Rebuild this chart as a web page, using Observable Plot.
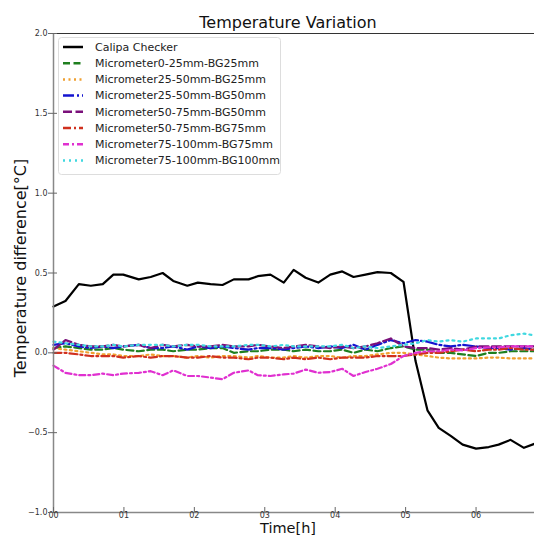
<!DOCTYPE html>
<html><head><meta charset="utf-8">
<script src="https://cdn.jsdelivr.net/npm/d3@7"></script>
<script src="https://cdn.jsdelivr.net/npm/@observablehq/plot@0.6"></script>
<style>body{margin:0;background:#fff}#chart{width:534px;height:536px}</style>
</head><body><div id="chart"></div>
<script>
// time in hours
const times = [0,0.17,0.36,0.53,0.70,0.85,0.99,1.21,1.38,1.55,1.70,1.90,2.05,2.23,2.40,2.56,2.77,2.90,3.08,3.27,3.41,3.58,3.76,3.93,4.10,4.26,4.43,4.60,4.79,4.97,5.14,5.31,5.47,5.64,5.81,6.00,6.18,6.32,6.49,6.68,6.83];

const calipa = [0.29,0.325,0.43,0.42,0.43,0.49,0.49,0.46,0.475,0.50,0.45,0.42,0.44,0.43,0.425,0.46,0.46,0.48,0.49,0.44,0.52,0.47,0.44,0.49,0.51,0.475,0.49,0.505,0.50,0.445,-0.05,-0.36,-0.47,-0.52,-0.575,-0.60,-0.59,-0.575,-0.545,-0.595,-0.57];
const mic0_25_bg25 = [0.03,0.04,0.03,0.02,0.02,0.03,0.02,0.01,0.02,0.02,0.01,0.02,0.02,0.03,0.03,0.0,0.01,0.01,0.02,0.02,0.01,0.02,0.01,0.01,0.02,0.0,0.02,0.01,0.03,0.04,0.02,0.02,0.0,0.0,-0.01,-0.02,0.0,0.0,0.01,0.01,0.01];
const mic25_50_bg25 = [0.03,0.02,0.01,0.0,-0.01,-0.01,-0.02,-0.02,-0.01,-0.02,-0.02,-0.03,-0.02,-0.03,-0.02,-0.02,-0.03,-0.02,-0.03,-0.03,-0.02,-0.03,-0.02,-0.02,-0.03,-0.02,-0.02,-0.01,0.0,0.0,-0.01,-0.02,-0.03,-0.035,-0.035,-0.035,-0.03,-0.03,-0.035,-0.035,-0.035];
const mic25_50_bg50 = [0.05,0.06,0.04,0.03,0.04,0.03,0.04,0.05,0.03,0.03,0.04,0.02,0.04,0.03,0.04,0.03,0.02,0.03,0.03,0.02,0.03,0.04,0.03,0.04,0.03,0.05,0.02,0.05,0.08,0.06,0.08,0.07,0.05,0.04,0.05,0.04,0.03,0.03,0.02,0.03,0.02];
const mic50_75_bg50 = [0.02,0.08,0.05,0.04,0.04,0.05,0.04,0.05,0.03,0.05,0.04,0.05,0.04,0.04,0.05,0.04,0.04,0.05,0.04,0.03,0.04,0.05,0.04,0.03,0.04,0.03,0.04,0.06,0.09,0.04,0.03,0.03,0.02,0.03,0.02,0.04,0.04,0.04,0.04,0.04,0.04];
const mic50_75_bg75 = [0.0,0.0,-0.01,-0.02,-0.02,-0.02,-0.03,-0.02,-0.03,-0.02,-0.02,-0.03,-0.03,-0.02,-0.03,-0.03,-0.04,-0.03,-0.03,-0.04,-0.03,-0.04,-0.03,-0.04,-0.03,-0.03,-0.03,-0.02,-0.02,-0.02,-0.01,0.0,0.0,0.01,0.02,0.01,0.02,0.02,0.03,0.02,0.02];
const mic75_100_bg75 = [-0.08,-0.125,-0.14,-0.14,-0.13,-0.14,-0.13,-0.125,-0.115,-0.14,-0.11,-0.145,-0.145,-0.155,-0.165,-0.125,-0.11,-0.14,-0.145,-0.135,-0.13,-0.105,-0.125,-0.12,-0.10,-0.145,-0.12,-0.10,-0.07,-0.02,0.0,0.01,0.01,0.02,0.015,0.03,0.035,0.035,0.04,0.04,0.04];
const mic75_100_bg100 = [0.07,0.06,0.05,0.04,0.04,0.05,0.04,0.05,0.05,0.05,0.04,0.05,0.05,0.04,0.04,0.04,0.05,0.05,0.04,0.05,0.04,0.04,0.04,0.04,0.05,0.03,0.04,0.03,0.04,0.05,0.06,0.08,0.07,0.08,0.07,0.09,0.09,0.09,0.11,0.12,0.11];

const seriesNames = ["Calipa Checker","Micrometer0-25mm-BG25mm","Micrometer25-50mm-BG25mm","Micrometer25-50mm-BG50mm","Micrometer50-75mm-BG50mm","Micrometer50-75mm-BG75mm","Micrometer75-100mm-BG75mm","Micrometer75-100mm-BG100mm"];
const seriesValues = [calipa, mic0_25_bg25, mic25_50_bg25, mic25_50_bg50, mic50_75_bg50, mic50_75_bg75, mic75_100_bg75, mic75_100_bg100];
const seriesColors = ["#000000","#1f7f1f","#f0a030","#1414d0","#7a107a","#d0301e","#e030d0","#40d8e0"];
const seriesDash = [null,"7,3.5","2,3.5","11,3,2,3","9,3.5","8,3,2,3","6,3,2,3","2,4"];

const xTickValues = [0,1,2,3,4,5,6];
const xTickLabels = ["00","01","02","03","04","05","06"];
const yTickValues = [-1,-0.5,0,0.5,1,1.5,2];

const W = 534, H = 536, mL = 53, mT = 33, mB = 24, mR = 0;

const table = [];
seriesValues.forEach((vals, s) => vals.forEach((v, i) => table.push({series: seriesNames[s], t: times[i], v})));

const lineMarks = seriesNames.map((name, s) =>
  Plot.line(table.filter(d => d.series === name), {
    x: "t", y: "v", stroke: seriesColors[s], strokeWidth: 2.2,
    strokeDasharray: seriesDash[s] || undefined, strokeLinejoin: "round"
  })
);

const plot = Plot.plot({
  width: W, height: H,
  marginLeft: mL, marginTop: mT, marginBottom: mB, marginRight: mR,
  style: {fontFamily: "DejaVu Sans", fontSize: "8px", background: "#fff", overflow: "visible"},
  x: {domain: [0, 6.83]},
  y: {domain: [-1, 2]},
  marks: [
    ...lineMarks,
    Plot.ruleY([2], {stroke: "#333", strokeWidth: 1.2}),
    Plot.ruleY([-1], {stroke: "#888", strokeWidth: 1.5}),
    Plot.ruleX([0], {stroke: "#888", strokeWidth: 1.5}),
    Plot.tickX(xTickValues, {x: d => d, insetTop: H - mT - mB - 5, stroke: "#666"}),
    Plot.tickY(yTickValues, {y: d => d, insetRight: W - mL - mR - 4, stroke: "#666"}),
    Plot.axisX({ticks: xTickValues, tickFormat: (d) => xTickLabels[xTickValues.indexOf(d)], tickSize: 0, tickPadding: 0, fill: "#333", label: null}),
    Plot.axisY({ticks: yTickValues, tickFormat: d3.format(".1f"), tickSize: 5, tickPadding: 1, stroke: "#666", fill: "#333", label: null})
  ]
});

const svg = d3.select(plot);
svg.append("text").attr("x", 288).attr("y", 28).attr("text-anchor", "middle")
  .attr("font-size", 16).attr("fill", "#111").text("Temperature Variation");
svg.append("text").attr("x", 288).attr("y", 533).attr("text-anchor", "middle")
  .attr("font-size", 14.5).attr("fill", "#111").text("Time[h]");
svg.append("text").attr("transform", "translate(26,268) rotate(-90)").attr("text-anchor", "middle")
  .attr("font-size", 16).attr("fill", "#111").text("Temperature difference[°C]");

const lg = svg.append("g");
lg.append("rect").attr("x", 58.5).attr("y", 37.5).attr("width", 222).attr("height", 137).attr("rx", 3)
  .attr("fill", "#fff").attr("fill-opacity", 0.85).attr("stroke", "#ddd");
seriesNames.forEach((name, i) => {
  const yy = 47 + i * 16.2;
  lg.append("line").attr("x1", 63).attr("x2", 83).attr("y1", yy).attr("y2", yy)
    .attr("stroke", seriesColors[i]).attr("stroke-width", 2.5)
    .attr("stroke-dasharray", seriesDash[i]);
  lg.append("text").attr("x", 95).attr("y", yy).attr("dy", "0.35em").attr("text-anchor", "start")
    .attr("font-size", 11).attr("fill", "#222").text(name);
});

document.getElementById("chart").appendChild(plot);
</script>
</body></html>
